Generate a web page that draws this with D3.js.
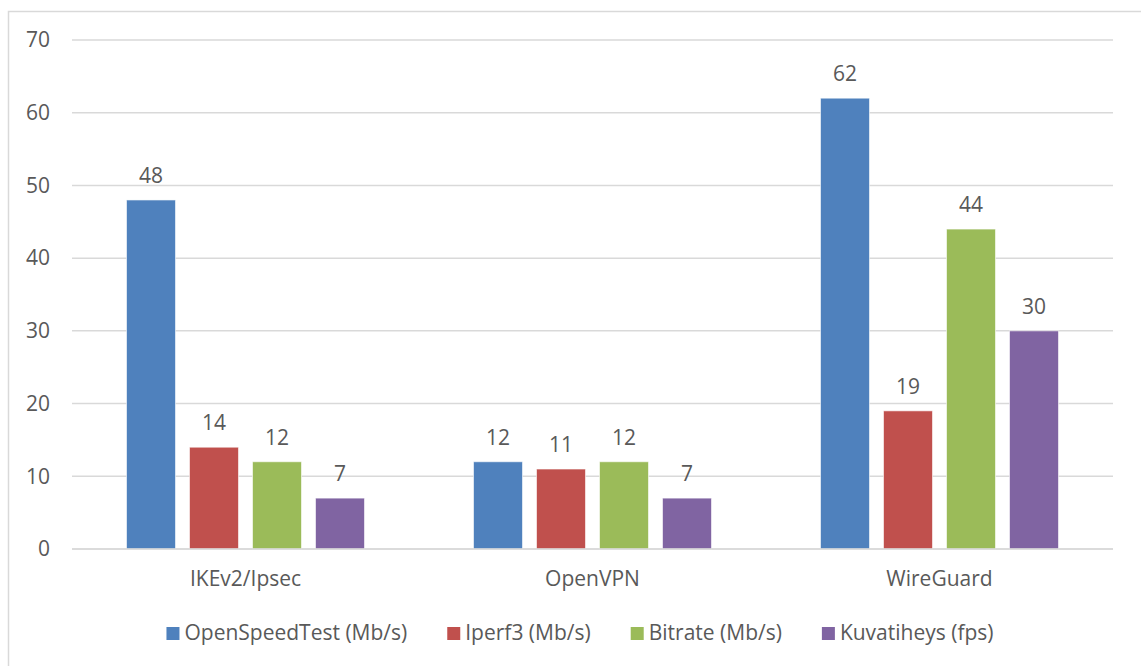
<!DOCTYPE html>
<html>
<head>
<meta charset="utf-8">
<script src="https://cdn.jsdelivr.net/npm/d3@7/dist/d3.min.js"></script>
<style>
  body { margin: 0; background: #fff; }
  svg text { font-family: "Open Sans", sans-serif; fill: #595959; }
</style>
</head>
<body>
<div id="chart"></div>
<script>
// chart data
var categories = ["IKEv2/Ipsec", "OpenVPN", "WireGuard"];
var series = ["OpenSpeedTest (Mb/s)", "Iperf3 (Mb/s)", "Bitrate (Mb/s)", "Kuvatiheys (fps)"];
var openSpeedTest = [48, 12, 62];
var iperf3 = [14, 11, 19];
var bitrate = [12, 12, 44];
var kuvatiheys = [7, 7, 30];
var yTicks = [0, 10, 20, 30, 40, 50, 60, 70];
var colors = ["#4F81BD", "#C0504D", "#9BBB59", "#8064A2"];

var values = [openSpeedTest, iperf3, bitrate, kuvatiheys];

var W = 1141, H = 666;
var margin = {top: 40, left: 72, right: 28, bottom: 117};
var width = W - margin.left - margin.right;
var height = H - margin.top - margin.bottom;
var fs = "21px";

var svg = d3.select("#chart").append("svg")
    .attr("width", W)
    .attr("height", H);

// frame (only top and left edges show)
svg.append("path")
    .attr("d", "M8.5," + H + "V11.5H" + W)
    .attr("fill", "none")
    .attr("stroke", "#d9d9d9")
    .attr("stroke-width", 1.5);

var g = svg.append("g")
    .attr("transform", "translate(" + margin.left + "," + margin.top + ")");

var x0 = d3.scaleBand()
    .domain(categories)
    .range([0, width])
    .padding(0);

var x1 = d3.scaleBand()
    .domain(series)
    .range([0, x0.bandwidth()])
    .paddingInner(0.222)
    .paddingOuter(0.865);

var y = d3.scaleLinear()
    .domain([0, 70])
    .range([height, 0]);

// gridlines
g.selectAll(".grid")
    .data(yTicks)
    .enter().append("line")
    .attr("class", "grid")
    .attr("x1", 0)
    .attr("x2", width)
    .attr("y1", function(d) { return y(d); })
    .attr("y2", function(d) { return y(d); })
    .attr("stroke", "#d9d9d9")
    .attr("stroke-width", 1.5);

// y axis labels
var yAxis = g.append("g")
    .call(d3.axisLeft(y).tickValues(yTicks).tickSize(0).tickPadding(22));
yAxis.select(".domain").remove();
yAxis.selectAll("text")
    .style("font-size", fs)
    .style("font-family", "'Open Sans', sans-serif")
    .attr("fill", "#595959");

// x axis labels
var xAxis = g.append("g")
    .attr("transform", "translate(0," + height + ")")
    .call(d3.axisBottom(x0).tickSize(0).tickPadding(22));
xAxis.select(".domain").remove();
xAxis.selectAll("text")
    .style("font-size", fs)
    .style("font-family", "'Open Sans', sans-serif")
    .attr("fill", "#595959");

// bars
var groups = g.selectAll(".cat")
    .data(categories)
    .enter().append("g")
    .attr("class", "cat")
    .attr("transform", function(d) { return "translate(" + x0(d) + ",0)"; });

groups.selectAll("rect")
    .data(function(d, i) { return series.map(function(s, j) { return {s: s, j: j, v: values[j][i]}; }); })
    .enter().append("rect")
    .attr("x", function(d) { return x1(d.s); })
    .attr("y", function(d) { return y(d.v); })
    .attr("width", x1.bandwidth())
    .attr("height", function(d) { return height - y(d.v); })
    .attr("fill", function(d) { return colors[d.j]; })
    .attr("stroke", "#ffffff")
    .attr("stroke-opacity", 0.6)
    .attr("stroke-width", 1);

groups.selectAll(".val")
    .data(function(d, i) { return series.map(function(s, j) { return {s: s, j: j, v: values[j][i]}; }); })
    .enter().append("text")
    .attr("class", "val")
    .attr("x", function(d) { return x1(d.s) + x1.bandwidth() / 2; })
    .attr("y", function(d) { return y(d.v) - 17; })
    .attr("text-anchor", "middle")
    .style("font-size", fs)
    .text(function(d) { return d.v; });

// axis baseline
g.append("line")
    .attr("x1", 0).attr("x2", width)
    .attr("y1", height).attr("y2", height)
    .attr("stroke", "#d9d9d9")
    .attr("stroke-width", 1.5);

// legend
var legend = svg.append("g");
var lx = 0;
series.forEach(function(s, i) {
    var item = legend.append("g").attr("transform", "translate(" + lx + ",0)");
    item.append("rect")
        .attr("x", 0).attr("y", -13)
        .attr("width", 13).attr("height", 13)
        .attr("fill", colors[i]);
    var t = item.append("text")
        .attr("x", 18).attr("y", 0)
        .style("font-size", fs)
        .text(s);
    lx += 18 + t.node().getComputedTextLength() + 40;
});
var legendW = lx - 40;
legend.attr("transform", "translate(" + (580 - legendW / 2) + ",640)");
</script>
</body>
</html>
